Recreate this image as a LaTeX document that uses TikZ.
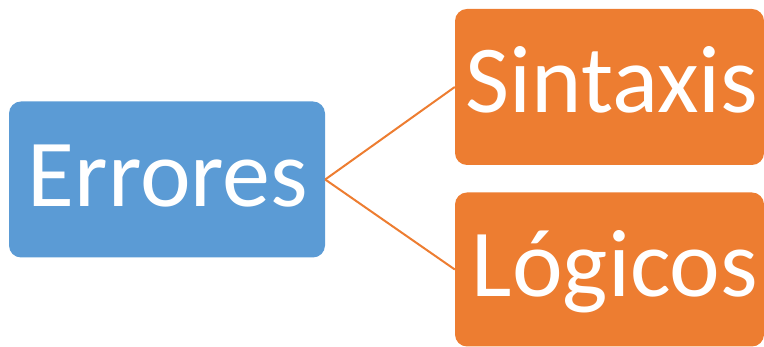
\documentclass[tikz,border=0pt]{standalone}
\usepackage{fontspec}
\setmainfont{Carlito}
\definecolor{boxblue}{HTML}{5B9BD5}
\definecolor{boxorange}{HTML}{ED7D31}
\begin{document}
\begin{tikzpicture}[x=1pt,y=1pt,
  card/.style={rounded corners=12pt, minimum width=316pt, minimum height=156pt,
    inner sep=0pt, draw=none},
  leaf/.style={card, fill=boxorange, minimum width=309pt},
  label/.style={font=\fontsize{96}{100}\selectfont, text=white, anchor=base, inner sep=0pt},
  link/.style={draw=boxorange, line width=2pt}]
  \useasboundingbox (0,0) rectangle (764,347);
  \clip (0,0) rectangle (764,347);
  % root box and its two branches
  \node[card, fill=boxblue] (root) at (167,167.5) {};
  \node[leaf] (syn) at (609.5,260) {};
  \node[leaf, minimum height=154pt] (log) at (609.5,77.5) {};
  \draw[link] (root.east) -- (syn.west);
  \draw[link] (root.east) -- (log.west);
  % labels, set on a common baseline inside each box
  \node[label] (troot) at (168,140) {Errores};
  \node[label] (tsyn) at (612,234) {Sintaxis};
  \node[label] (tlog) at (615,50) {Lógicos};
\end{tikzpicture}
\end{document}
